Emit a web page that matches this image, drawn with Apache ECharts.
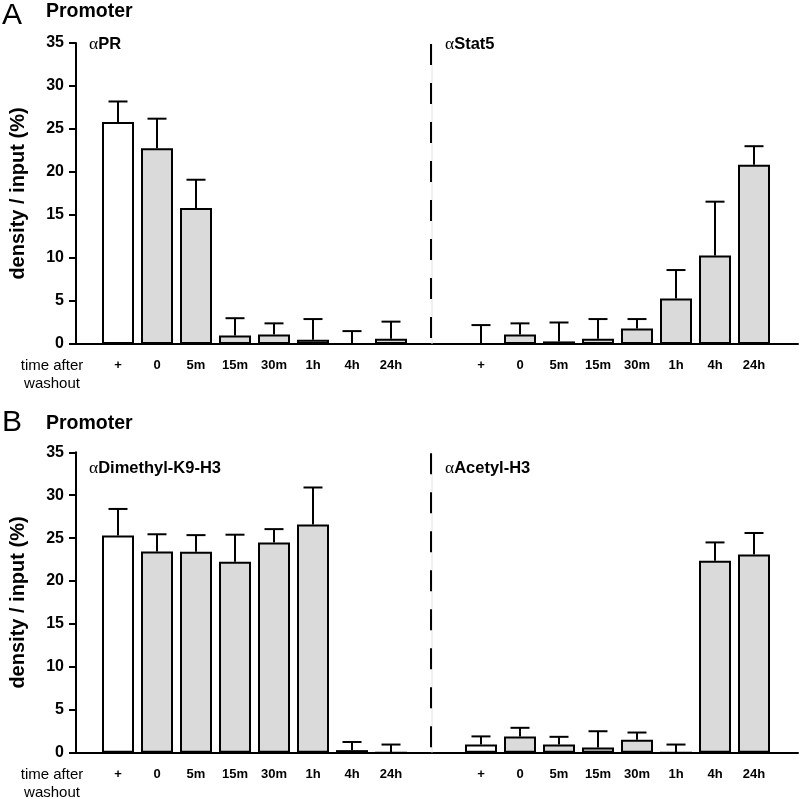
<!DOCTYPE html>
<html><head><meta charset="utf-8">
<script src="https://cdn.jsdelivr.net/npm/echarts@6/dist/echarts.min.js"></script>
<style>html,body{margin:0;padding:0;background:#fff}#c{width:800px;height:799px}</style>
</head><body><div id="c"></div>
<script>
// ---- data ----
const categories = ['+', '0', '5m', '15m', '30m', '1h', '4h', '24h'];
const yTickMax = 35, yTickStep = 5;
const prMean = [25.8, 22.75, 15.8, 1.0, 1.1, 0.5, 0, 0.6];
const prErrTop = [28.2, 26.2, 19.1, 3.0, 2.4, 2.9, 1.5, 2.6];
const stat5Mean = [0, 1.1, 0.3, 0.6, 1.8, 5.3, 10.3, 20.85];
const stat5ErrTop = [2.2, 2.4, 2.5, 2.9, 2.9, 8.6, 16.55, 23.0];
const dimethylMean = [25.3, 23.45, 23.4, 22.25, 24.5, 26.6, 0.3, 0];
const dimethylErrTop = [28.4, 25.45, 25.35, 25.4, 26.05, 30.9, 1.25, 0.95];
const acetylMean = [0.95, 1.9, 0.95, 0.6, 1.5, 0, 22.35, 23.1];
const acetylErrTop = [1.9, 2.9, 1.85, 2.5, 2.35, 0.95, 24.5, 25.6];

// ---- style ----
const FONT = "'Liberation Sans', Arial, Helvetica, sans-serif";
const GREY = '#dadada';
const panels = [
  { top: 43, height: 301, series: [[prMean, prErrTop], [stat5Mean, stat5ErrTop]] },
  { top: 452.3, height: 300.4, series: [[dimethylMean, dimethylErrTop], [acetylMean, acetylErrTop]] }
];
const groupLefts = [98.5, 461.5];
const groupWidth = 312;

const grids = [], xAxes = [], yAxes = [], series = [];

function renderErr(params, api) {
  const x = api.value(0), m = api.value(1), e = api.value(2);
  const b = api.coord([x, m]);
  const t = api.coord([x, e]);
  const hw = 9.5;
  return {
    type: 'group',
    children: [
      { type: 'line', shape: { x1: b[0], y1: b[1], x2: t[0], y2: t[1] }, style: { stroke: '#000', lineWidth: 2 } },
      { type: 'line', shape: { x1: t[0] - hw, y1: t[1], x2: t[0] + hw, y2: t[1] }, style: { stroke: '#000', lineWidth: 2 } }
    ]
  };
}

panels.forEach((p) => {
  // frame grid: y axis + continuous x axis line
  const fi = grids.length;
  grids.push({ left: 72, top: p.top, width: 726, height: p.height });
  xAxes.push({
    gridIndex: fi, type: 'value', min: 0, max: 1,
    axisLine: { show: true, lineStyle: { color: '#000', width: 2 } },
    axisTick: { show: false }, axisLabel: { show: false }, splitLine: { show: false }
  });
  yAxes.push({
    gridIndex: fi, type: 'value', min: 0, max: yTickMax, interval: yTickStep,
    name: 'density / input (%)', nameLocation: 'middle', nameGap: 48,
    nameTextStyle: { fontFamily: FONT, fontWeight: 'bold', fontSize: 20, color: '#000' },
    axisLine: { show: true, lineStyle: { color: '#000', width: 2 } },
    axisTick: { show: true, length: 7, lineStyle: { color: '#000', width: 2 } },
    axisLabel: { fontFamily: FONT, fontWeight: 'bold', fontSize: 16, color: '#000', margin: 12 },
    splitLine: { show: false }
  });
  p.series.forEach((pair, g) => {
    const gi = grids.length;
    grids.push({ left: groupLefts[g], top: p.top, width: groupWidth, height: p.height });
    xAxes.push({
      gridIndex: gi, type: 'category', data: categories,
      axisLine: { show: false }, axisTick: { show: false },
      axisLabel: { fontFamily: FONT, fontWeight: 'bold', fontSize: 13, color: '#000', margin: 15, interval: 0 }
    });
    yAxes.push({ gridIndex: gi, type: 'value', min: 0, max: yTickMax, show: false });
    const mean = pair[0], errTop = pair[1];
    series.push({
      type: 'bar', xAxisIndex: gi, yAxisIndex: gi, barWidth: 32,
      data: mean.map((v, i) => ({ value: v, itemStyle: { color: i === 0 ? '#fff' : GREY } })),
      itemStyle: { borderColor: '#000', borderWidth: 2 },
      silent: true, animation: false, z: 2
    });
    series.push({
      type: 'custom', xAxisIndex: gi, yAxisIndex: gi, renderItem: renderErr,
      data: mean.map((v, i) => [i, v, errTop[i]]),
      silent: true, animation: false, z: 3
    });
  });
});

function label(x, y, greek, rest, size) {
  return {
    type: 'text', left: x, top: y,
    style: {
      text: '{a|' + greek + '}{b|' + rest + '}',
      rich: {
        a: { fontFamily: "'Liberation Serif', 'DejaVu Serif', serif", fontSize: size + 1, fill: '#000', color: '#000' },
        b: { fontFamily: FONT, fontWeight: 'bold', fontSize: size, fill: '#000', color: '#000' }
      }
    }
  };
}

const graphic = [];
const letterTops = [1, 408];
const promoterTops = [1.5, 413.5];
panels.forEach((p, k) => {
  graphic.push({ type: 'text', left: 2, top: letterTops[k], style: { text: k === 0 ? 'A' : 'B', font: '30px ' + FONT, fill: '#000' } });
  graphic.push({ type: 'text', left: 46, top: promoterTops[k], style: { text: 'Promoter', font: 'bold 19.5px ' + FONT, fill: '#000' } });
  // separator
  graphic.push({ type: 'line', shape: { x1: 432, y1: p.top + 1, x2: 432, y2: p.top + p.height }, style: { stroke: '#e2e2e2', lineWidth: 1 }, z: 1 });
  graphic.push({ type: 'line', shape: { x1: 431, y1: p.top + 1, x2: 431, y2: p.top + p.height }, style: { stroke: '#000', lineWidth: 2, lineDash: [21, 18] }, z: 5 });
  // time after washout
  graphic.push({ type: 'text', x: 52, y: p.top + p.height + 13, style: { text: 'time after\nwashout', font: '15px ' + FONT, fill: '#000', align: 'center', verticalAlign: 'top', lineHeight: 18 } });
});
graphic.push(label(89, 35, 'α', 'PR', 16.5));
graphic.push(label(445, 35, 'α', 'Stat5', 16.5));
graphic.push(label(89, 459.5, 'α', 'Dimethyl-K9-H3', 16.5));
graphic.push(label(445, 459.5, 'α', 'Acetyl-H3', 16.5));

const chart = echarts.init(document.getElementById('c'), null, { renderer: 'canvas' });
chart.setOption({
  animation: false,
  backgroundColor: '#fff',
  grid: grids, xAxis: xAxes, yAxis: yAxes, series: series, graphic: graphic
});
</script>
</body></html>
